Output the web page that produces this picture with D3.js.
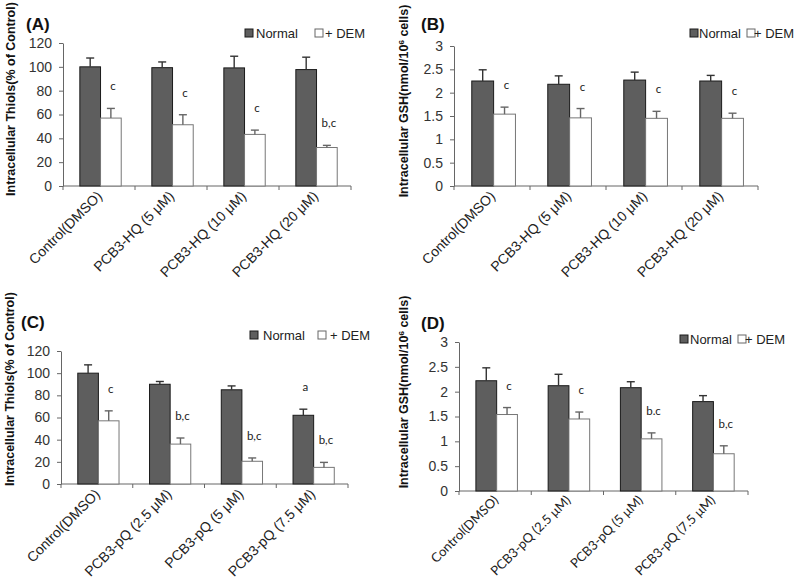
<!DOCTYPE html>
<html><head><meta charset="utf-8">
<script src="https://cdn.jsdelivr.net/npm/d3@7/dist/d3.min.js"></script>
<style>
html,body{margin:0;padding:0;background:#fff;}
svg{display:block;}
</style></head>
<body>
<svg id="chart" width="800" height="588"></svg>
<script>
// ---------- DATA ----------
const seriesNames = ["Normal", "+ DEM"];
const categoriesHQ = ["Control(DMSO)", "PCB3-HQ (5 \u03bcM)", "PCB3-HQ (10 \u03bcM)", "PCB3-HQ (20 \u03bcM)"];
const categoriesPQ = ["Control(DMSO)", "PCB3-pQ (2.5 \u03bcM)", "PCB3-pQ (5 \u03bcM)", "PCB3-pQ (7.5 \u03bcM)"];

const thiolTicks = [0, 20, 40, 60, 80, 100, 120];
const gshTicks = [0, 0.5, 1, 1.5, 2, 2.5, 3];

// Panel A: thiols, PCB3-HQ
const thiolsHQNormal = [100, 99.3, 99.1, 97.7];
const thiolsHQNormalSD = [7.4, 4.8, 9.8, 10.4];
const thiolsHQDEM = [57, 51.4, 43.3, 32.3];
const thiolsHQDEMSD = [8.1, 8.4, 3.6, 1.8];
const thiolsHQNormalMarks = ["", "", "", ""];
const thiolsHQDEMMarks = ["c", "c", "c", "b,c"];

// Panel B: GSH, PCB3-HQ
const gshHQNormal = [2.25, 2.18, 2.27, 2.25];
const gshHQNormalSD = [0.24, 0.18, 0.17, 0.12];
const gshHQDEM = [1.54, 1.46, 1.45, 1.45];
const gshHQDEMSD = [0.15, 0.2, 0.15, 0.11];
const gshHQNormalMarks = ["", "", "", ""];
const gshHQDEMMarks = ["c", "c", "c", "c"];

// Panel C: thiols, PCB3-pQ
const thiolsPQNormal = [100, 90, 85, 62];
const thiolsPQNormalSD = [7.5, 2.5, 3.5, 5.5];
const thiolsPQDEM = [57, 36, 20.5, 15];
const thiolsPQDEMSD = [9, 5.5, 3, 4.5];
const thiolsPQNormalMarks = ["", "", "", "a"];
const thiolsPQDEMMarks = ["c", "b,c", "b,c", "b,c"];

// Panel D: GSH, PCB3-pQ
const gshPQNormal = [2.22, 2.12, 2.08, 1.8];
const gshPQNormalSD = [0.26, 0.23, 0.12, 0.12];
const gshPQDEM = [1.54, 1.45, 1.05, 0.75];
const gshPQDEMSD = [0.14, 0.14, 0.12, 0.16];
const gshPQNormalMarks = ["", "", "", ""];
const gshPQDEMMarks = ["c", "c", "b.c", "b,c"];

// ---------- DRAWING ----------
const svg = d3.select("#chart");
const ARIAL = "'Liberation Sans', Arial, sans-serif";
const CALI = "Lato, 'Open Sans', sans-serif";

function drawPanel(p) {
  const g = svg.append("g");
  const y = d3.scaleLinear().domain([0, p.yMax]).range([p.bottom, p.top]);
  const x = d3.scaleBand().domain(p.categories).range([p.left, p.right]).padding(0);
  const xs = d3.scaleBand().domain(seriesNames).range([0, x.bandwidth()])
    .paddingInner(0).paddingOuter(0.74).align(0.55);

  const rows = p.categories.map((c, i) => ({
    cat: c,
    vals: [
      {s: seriesNames[0], v: p.normal[i], sd: p.normalSD[i], mark: p.normalMarks[i]},
      {s: seriesNames[1], v: p.dem[i], sd: p.demSD[i], mark: p.demMarks[i]}
    ]
  }));

  // y axis
  const ya = d3.axisLeft(y).tickValues(p.ticks).tickSize(4).tickSizeOuter(0).tickPadding(7)
    .tickFormat(d => String(d));
  const yg = g.append("g").attr("transform", `translate(${p.left},0)`).call(ya);
  yg.select(".domain").attr("stroke", "#666");
  yg.selectAll(".tick line").attr("stroke", "#666");
  yg.selectAll(".tick text").attr("font-family", ARIAL).attr("font-size", 14).attr("fill", "#333");

  // x axis
  const xg = g.append("g").attr("transform", `translate(0,${p.bottom})`);
  xg.append("line").attr("x1", p.left).attr("x2", p.right).attr("stroke", "#666");
  const bounds = p.categories.map(c => x(c)).concat([p.right]);
  xg.selectAll("line.tk").data(bounds).join("line").attr("class", "tk")
    .attr("x1", d => d).attr("x2", d => d).attr("y1", 0).attr("y2", 4).attr("stroke", "#666");
  xg.selectAll("text.xl").data(p.categories).join("text").attr("class", "xl")
    .attr("transform", d => `translate(${x(d) + x.bandwidth() / 2 + 4},${p.xLabelDy}) rotate(-45)`)
    .attr("text-anchor", "end")
    .attr("font-family", p.xFont).attr("font-size", p.xFontSize).attr("fill", "#222")
    .text(d => d);

  // bars
  const grp = g.selectAll("g.grp").data(rows).join("g").attr("class", "grp")
    .attr("transform", d => `translate(${x(d.cat)},0)`);
  grp.selectAll("rect").data(d => d.vals).join("rect")
    .attr("x", d => xs(d.s)).attr("width", xs.bandwidth())
    .attr("y", d => y(d.v)).attr("height", d => y(0) - y(d.v))
    .attr("fill", (d, i) => i === 0 ? "#5e5e5e" : "#ffffff")
    .attr("stroke", (d, i) => i === 0 ? "#1a1a1a" : "#777")
    .attr("stroke-width", 1);
  // error bars
  const eb = grp.selectAll("g.eb").data(d => d.vals).join("g").attr("class", "eb");
  eb.append("line")
    .attr("x1", d => xs(d.s) + xs.bandwidth() / 2).attr("x2", d => xs(d.s) + xs.bandwidth() / 2)
    .attr("y1", d => y(d.v)).attr("y2", d => y(d.v + d.sd))
    .attr("stroke", (d, i) => i === 0 ? "#333" : "#666").attr("stroke-width", 1.4);
  eb.append("line")
    .attr("x1", d => xs(d.s) + xs.bandwidth() / 2 - 4).attr("x2", d => xs(d.s) + xs.bandwidth() / 2 + 4)
    .attr("y1", d => y(d.v + d.sd)).attr("y2", d => y(d.v + d.sd))
    .attr("stroke", (d, i) => i === 0 ? "#333" : "#666").attr("stroke-width", 1.4);
  // significance marks
  grp.selectAll("text.mk").data(d => d.vals.filter(v => v.mark)).join("text").attr("class", "mk")
    .attr("x", d => xs(d.s) + xs.bandwidth() / 2 + 2)
    .attr("y", d => y(d.v + d.sd) - 18)
    .attr("text-anchor", "middle")
    .attr("font-family", CALI).attr("font-size", 11.5).attr("fill", "#222")
    .text(d => d.mark);

  // panel label
  g.append("text").attr("x", p.labelX).attr("y", p.labelY)
    .attr("font-family", ARIAL).attr("font-weight", "bold").attr("font-size", 17).attr("fill", "#111")
    .text(p.label);

  // legend
  const lg = g.append("g");
  lg.append("rect").attr("x", p.leg[0]).attr("y", p.legY - 4).attr("width", 8).attr("height", 8)
    .attr("fill", "#5e5e5e").attr("stroke", "#1a1a1a");
  lg.append("text").attr("x", p.leg[1]).attr("y", p.legY + 5)
    .attr("font-family", ARIAL).attr("font-size", 13).attr("fill", "#222").text(seriesNames[0]);
  lg.append("rect").attr("x", p.leg[2]).attr("y", p.legY - 4).attr("width", 8).attr("height", 8)
    .attr("fill", "#fff").attr("stroke", "#666");
  lg.append("text").attr("x", p.leg[3]).attr("y", p.legY + 5)
    .attr("font-family", ARIAL).attr("font-size", 13).attr("fill", "#222").text(seriesNames[1]);

  // y title
  const t = g.append("text")
    .attr("transform", `translate(${p.titleX},${p.titleY}) rotate(-90)`)
    .attr("text-anchor", "middle")
    .attr("font-family", ARIAL).attr("font-weight", "bold").attr("font-size", 12.5).attr("fill", "#111");
  p.title.forEach(part => {
    const ts = t.append("tspan").text(part.t);
    if (part.sup) ts.attr("baseline-shift", "super").attr("font-size", 8);
  });
}

const thiolTitle = [{t: "Intracellular Thiols(% of Control)"}];
const gshTitle = [{t: "Intracellular GSH(nmol/10"}, {t: "6", sup: true}, {t: " cells)"}];

drawPanel({
  label: "(A)", labelX: 26, labelY: 30,
  categories: categoriesHQ, normal: thiolsHQNormal, normalSD: thiolsHQNormalSD,
  dem: thiolsHQDEM, demSD: thiolsHQDEMSD, normalMarks: thiolsHQNormalMarks, demMarks: thiolsHQDEMMarks,
  yMax: 120, ticks: thiolTicks, left: 63, right: 351, top: 43, bottom: 186,
  leg: [245, 256, 315, 325], legY: 33,
  title: thiolTitle, titleX: 15, titleY: 99,
  xFont: ARIAL, xFontSize: 14, xLabelDy: 11
});
drawPanel({
  label: "(B)", labelX: 421, labelY: 30,
  categories: categoriesHQ, normal: gshHQNormal, normalSD: gshHQNormalSD,
  dem: gshHQDEM, demSD: gshHQDEMSD, normalMarks: gshHQNormalMarks, demMarks: gshHQDEMMarks,
  yMax: 3, ticks: gshTicks, left: 454, right: 758, top: 46, bottom: 186,
  leg: [690, 699, 747, 754], legY: 33,
  title: gshTitle, titleX: 408, titleY: 101,
  xFont: ARIAL, xFontSize: 14, xLabelDy: 11
});
drawPanel({
  label: "(C)", labelX: 21, labelY: 328,
  categories: categoriesPQ, normal: thiolsPQNormal, normalSD: thiolsPQNormalSD,
  dem: thiolsPQDEM, demSD: thiolsPQDEMSD, normalMarks: thiolsPQNormalMarks, demMarks: thiolsPQDEMMarks,
  yMax: 120, ticks: thiolTicks, left: 61, right: 348, top: 351, bottom: 484,
  leg: [250, 263, 318, 330], legY: 335,
  title: thiolTitle, titleX: 14, titleY: 389,
  xFont: ARIAL, xFontSize: 14, xLabelDy: 11
});
drawPanel({
  label: "(D)", labelX: 421, labelY: 329,
  categories: categoriesPQ, normal: gshPQNormal, normalSD: gshPQNormalSD,
  dem: gshPQDEM, demSD: gshPQDEMSD, normalMarks: gshPQNormalMarks, demMarks: gshPQDEMMarks,
  yMax: 3, ticks: gshTicks, left: 459, right: 748, top: 342, bottom: 491,
  leg: [680, 690, 738, 745], legY: 339,
  title: gshTitle, titleX: 408, titleY: 392,
  xFont: CALI, xFontSize: 13, xLabelDy: 10
});
</script>
</body></html>
